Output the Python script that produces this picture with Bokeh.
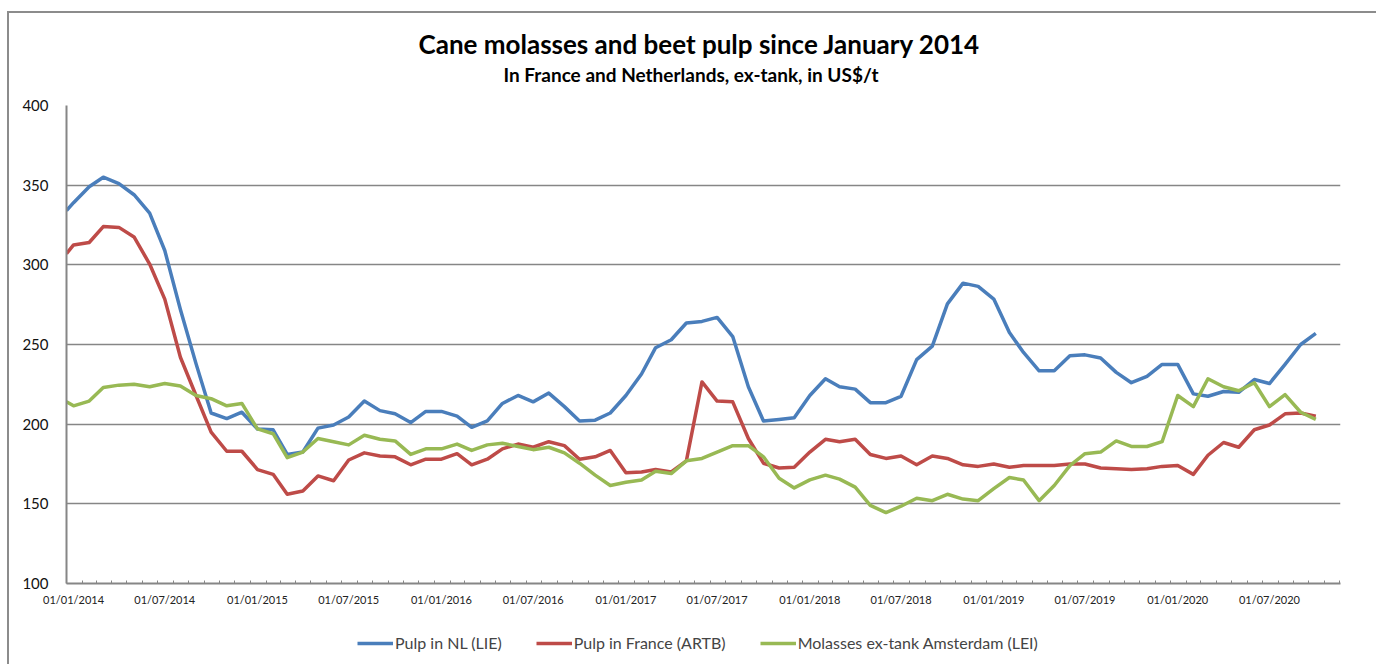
import math
import pandas as pd
from bokeh.plotting import figure
from bokeh.layouts import column
from bokeh.models import FixedTicker, Legend, LegendItem, Title, Range1d
from bokeh.embed import file_html
from bokeh.resources import INLINE

# ---- data ----
first_date = "2014-01-01"
month_dates = pd.date_range("2014-01-01", "2020-10-01", freq="MS") + pd.Timedelta(days=14)
dates = [pd.Timestamp(first_date)] + list(month_dates)

pulp_nl = [334, 339, 349, 355, 351, 344, 332.5, 309, 272, 238, 207, 203.5, 207.5,
           197, 196.5, 181, 182.5, 197.5, 199.5, 204.5, 214.5, 208.5, 206.5, 201, 208,
           208, 205, 198, 202, 213, 218, 214, 219.5, 211, 202, 202.5, 207,
           218, 231.5, 248, 253, 263.5, 264.5, 267, 255, 223.5, 202, 203, 204,
           218, 228.5, 223.5, 222, 213.5, 213.5, 217.5, 240.5, 249, 275.5, 288.5, 286.5,
           278.5, 257.5, 245, 233.5, 233.5, 243, 243.5, 241.5, 232.5, 226, 230, 237.5,
           237.5, 219, 217.5, 220.5, 220, 228, 225.5, 237.5, 250, 257]

pulp_fr = [307, 312.5, 314, 324, 323.5, 317.5, 300.5, 278.5, 242, 218, 195, 183, 183,
           171.5, 168.5, 156, 158, 167.5, 164.5, 177.5, 182, 180, 179.5, 174.5, 178,
           178, 181.5, 174.5, 178, 184.5, 187.5, 185.5, 189, 186.5, 178, 179.5, 183.5,
           169.5, 170, 171.5, 170, 177, 226.5, 214.5, 214, 191, 175.5, 172.5, 173,
           182.5, 190.5, 189, 190.5, 181, 178.5, 180, 174.5, 180, 178.5, 174.5, 173.5,
           175, 173, 174, 174, 174, 175, 175, 172.5, 172, 171.5, 172, 173.5,
           174, 168.5, 180.5, 188.5, 185.5, 196.5, 199.5, 206.5, 207, 205]

molasses = [214, 211.5, 214.5, 223, 224.5, 225, 223.5, 225.5, 224, 218, 216, 211.5, 213,
            197, 194, 179, 182.5, 191, 189, 187, 193, 190.5, 189.5, 181, 184.5,
            184.5, 187.5, 183.5, 187, 188, 186, 184, 185.5, 182, 175.5, 168, 161.5,
            163.5, 165, 170.5, 169, 177, 178.5, 182.5, 186.5, 186.5, 179.5, 166, 160,
            165, 168, 165.5, 160.5, 149, 144.5, 148.5, 153.5, 152, 156, 153, 152,
            159.5, 166.5, 165, 152, 161.5, 174, 181.5, 182.5, 189.5, 186, 186, 189,
            218, 211, 228.5, 223.5, 221, 226, 211, 218.5, 207.5, 203]

series_names = ["Pulp in NL (LIE)", "Pulp in France (ARTB)", "Molasses ex-tank Amsterdam (LEI)"]
series_colors = ["#4A7EBB", "#BE4B48", "#98B954"]

tick_dates = pd.date_range("2014-01-01", "2020-07-01", freq="6MS")
tick_labels = [d.strftime("%d/%m/%Y") for d in tick_dates]
minor_dates = pd.date_range("2014-01-01", "2020-12-01", freq="MS")

def ms(ts):
    return int(pd.Timestamp(ts).value // 10**6)

FONT = "Lato"
GRID = "#868686"
LW = 3.5

x_vals = [ms(d) for d in dates]

p = figure(width=1367, height=605, x_axis_type="datetime",
           output_backend="svg", toolbar_location=None,
           x_range=Range1d(ms("2014-01-01"), ms("2020-12-03")),
           y_range=Range1d(100, 400),
           min_border_left=57, min_border_right=36, min_border_top=92, min_border_bottom=35)

p.outline_line_color = None
p.background_fill_color = "white"
p.border_fill_color = "white"

for vals, col in zip([pulp_nl, pulp_fr, molasses], series_colors):
    p.line(x_vals, vals, line_color=col, line_width=LW, line_join="round")

# x axis: labels sit slightly right of the tick marks, as in the reference
label_shift = pd.Timedelta(days=14)
label_pos = [ms(d + label_shift) for d in tick_dates]
xa = p.xaxis[0]
xa.ticker = FixedTicker(ticks=label_pos, minor_ticks=[ms(d) for d in minor_dates])
xa.major_label_overrides = {pos: lab for pos, lab in zip(label_pos, tick_labels)}
xa.major_tick_line_color = None
xa.major_tick_in = 0
xa.major_tick_out = 0
xa.minor_tick_line_color = GRID
xa.minor_tick_in = 3
xa.minor_tick_out = 0
xa.axis_line_color = GRID
xa.axis_line_width = 2
xa.major_label_standoff = 9
xa.major_label_text_font = FONT
xa.major_label_text_font_size = "11px"
xa.major_label_text_color = "#222222"

ya = p.yaxis[0]
ya.ticker = FixedTicker(ticks=[100, 150, 200, 250, 300, 350, 400])
ya.major_tick_line_color = None
ya.major_tick_in = 0
ya.major_tick_out = 0
ya.minor_tick_line_color = None
ya.axis_line_color = GRID
ya.axis_line_width = 2
ya.major_label_standoff = 18
ya.major_label_text_font = FONT
ya.major_label_text_font_size = "15px"
ya.major_label_text_color = "#111111"

p.xgrid.grid_line_color = None
p.ygrid.grid_line_color = GRID
p.ygrid.grid_line_width = 1.3

# titles stack outward from the frame: spacer, subtitle, main title
spacer = Title(text=" ", text_font_size="1px", standoff=16)
sub = Title(text="In France and Netherlands, ex-tank, in US$/t", align="left",
            text_font=FONT, text_font_size="19px", text_font_style="bold",
            text_color="black", offset=437, standoff=2)
main = Title(text="Cane molasses and beet pulp since January 2014", align="left",
             text_font=FONT, text_font_size="26px", text_font_style="bold",
             text_color="black", offset=352, standoff=0)
p.add_layout(spacer, "above")
p.add_layout(sub, "above")
p.add_layout(main, "above")

# legend strip below the chart (sample lines only; NaN data draws nothing)
leg = figure(width=1367, height=50, output_backend="svg", toolbar_location=None,
             x_axis_location=None, y_axis_location=None,
             x_range=Range1d(0, 1), y_range=Range1d(0, 1),
             min_border_left=0, min_border_right=0, min_border_top=0, min_border_bottom=0)
leg.outline_line_color = None
leg.grid.grid_line_color = None
samples = [leg.line([math.nan], [math.nan], line_color=c, line_width=LW) for c in series_colors]
legend = Legend(items=[LegendItem(label=n, renderers=[r]) for n, r in zip(series_names, samples)],
                orientation="horizontal", location=(291, 16),
                label_text_font=FONT, label_text_font_size="16px",
                glyph_width=36, glyph_height=16, label_standoff=2, spacing=34,
                border_line_color=None, background_fill_alpha=0,
                margin=0, padding=0)
leg.add_layout(legend, "center")

layout = column(p, leg, margin=(11, 0, 0, 7),
                styles={"border-left": "2px solid #8c8c8c", "border-top": "2px solid #8c8c8c"})

open("out.html", "w").write(file_html(layout, INLINE))
